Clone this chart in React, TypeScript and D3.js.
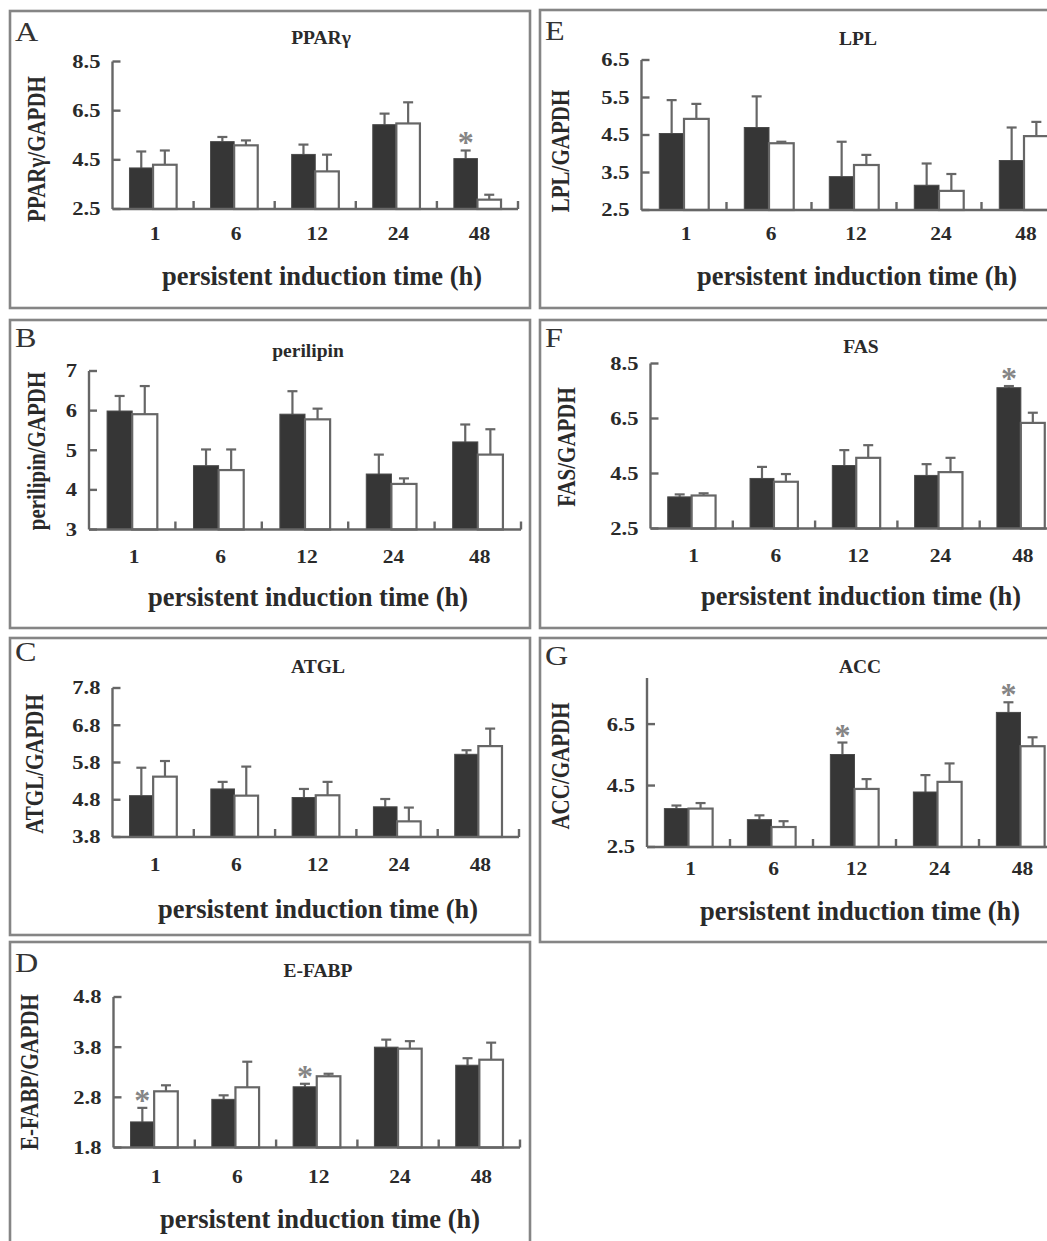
import React from 'react';
import * as d3 from 'd3';

// persistent induction time (h)
const times = ['1', '6', '12', '24', '48'];

// A  PPARγ
const ppargBlack = [4.17, 5.24, 4.72, 5.93, 4.55];
const ppargBlackSd = [0.67, 0.19, 0.4, 0.45, 0.33];
const ppargWhite = [4.3, 5.09, 4.03, 5.98, 2.88];
const ppargWhiteSd = [0.58, 0.2, 0.68, 0.86, 0.2];
const ppargTicks = [2.5, 4.5, 6.5, 8.5];
const ppargStars = ['48'];

// B  perilipin
const perilipinBlack = [5.99, 4.61, 5.91, 4.4, 5.21];
const perilipinBlackSd = [0.38, 0.41, 0.58, 0.49, 0.44];
const perilipinWhite = [5.91, 4.5, 5.78, 4.15, 4.89];
const perilipinWhiteSd = [0.71, 0.52, 0.27, 0.14, 0.64];
const perilipinTicks = [3, 4, 5, 6, 7];

// C  ATGL
const atglBlack = [4.91, 5.09, 4.86, 4.61, 6.02];
const atglBlackSd = [0.75, 0.19, 0.23, 0.21, 0.11];
const atglWhite = [5.42, 4.91, 4.92, 4.22, 6.24];
const atglWhiteSd = [0.42, 0.78, 0.36, 0.37, 0.47];
const atglTicks = [3.8, 4.8, 5.8, 6.8, 7.8];

// D  E-FABP
const efabpBlack = [2.31, 2.76, 3.01, 3.8, 3.44];
const efabpBlackSd = [0.28, 0.08, 0.06, 0.15, 0.14];
const efabpWhite = [2.92, 3.0, 3.22, 3.77, 3.55];
const efabpWhiteSd = [0.12, 0.51, 0.05, 0.15, 0.34];
const efabpTicks = [1.8, 2.8, 3.8, 4.8];
const efabpStars = ['1', '12'];

// E  LPL
const lplBlack = [4.54, 4.7, 3.39, 3.16, 3.82];
const lplBlackSd = [0.89, 0.83, 0.93, 0.58, 0.88];
const lplWhite = [4.93, 4.28, 3.7, 3.01, 4.47];
const lplWhiteSd = [0.4, 0.04, 0.27, 0.45, 0.38];
const lplTicks = [2.5, 3.5, 4.5, 5.5, 6.5];

// F  FAS
const fasBlack = [3.65, 4.32, 4.79, 4.43, 7.62];
const fasBlackSd = [0.09, 0.42, 0.56, 0.41, 0.06];
const fasWhite = [3.7, 4.2, 5.07, 4.55, 6.34];
const fasWhiteSd = [0.08, 0.28, 0.46, 0.52, 0.37];
const fasTicks = [2.5, 4.5, 6.5, 8.5];
const fasStars = ['48'];

// G  ACC
const accBlack = [3.75, 3.39, 5.51, 4.29, 6.88];
const accBlackSd = [0.1, 0.14, 0.39, 0.55, 0.33];
const accWhite = [3.75, 3.15, 4.39, 4.62, 5.78];
const accWhiteSd = [0.18, 0.19, 0.32, 0.6, 0.29];
const accTicks = [2.5, 4.5, 6.5];
const accStars = ['12', '48'];

const FONT = '"Liberation Serif", "Times New Roman", serif';
const AXIS = '#666';
const TEXT = '#2a2a2a';

// layout of each boxed panel (page pixels)
const panels = [
  {
    letter: 'A', title: 'PPARγ', yLabel: 'PPARγ/GAPDH',
    black: ppargBlack, blackSd: ppargBlackSd, white: ppargWhite, whiteSd: ppargWhiteSd,
    ticks: ppargTicks, domain: [2.5, 8.5], stars: ppargStars,
    box: [10, 11, 520, 297], x0: 112.5, x1: 518, yTop: 61.5, yBot: 209,
    letterPos: [15, 41], titlePos: [321, 44], yLabelPos: [45, 149],
    tickBase: 240, xTitle: [322, 285],
  },
  {
    letter: 'B', title: 'perilipin', yLabel: 'perilipin/GAPDH',
    black: perilipinBlack, blackSd: perilipinBlackSd, white: perilipinWhite, whiteSd: perilipinWhiteSd,
    ticks: perilipinTicks, domain: [3, 7], stars: [],
    box: [10, 320, 520, 308], x0: 89, x1: 521, yTop: 371, yBot: 529.5,
    letterPos: [15, 347], titlePos: [308, 357], yLabelPos: [45, 451],
    tickBase: 563, xTitle: [308, 606],
  },
  {
    letter: 'C', title: 'ATGL', yLabel: 'ATGL/GAPDH',
    black: atglBlack, blackSd: atglBlackSd, white: atglWhite, whiteSd: atglWhiteSd,
    ticks: atglTicks, domain: [3.8, 7.8], stars: [],
    box: [10, 638, 520, 297], x0: 112.5, x1: 519, yTop: 688, yBot: 837,
    letterPos: [15, 661], titlePos: [318, 673], yLabelPos: [43, 764],
    tickBase: 871, xTitle: [318, 918],
  },
  {
    letter: 'D', title: 'E-FABP', yLabel: 'E-FABP/GAPDH',
    black: efabpBlack, blackSd: efabpBlackSd, white: efabpWhite, whiteSd: efabpWhiteSd,
    ticks: efabpTicks, domain: [1.8, 4.8], stars: efabpStars,
    box: [10, 942, 520, 320], x0: 113.5, x1: 520, yTop: 997, yBot: 1147.5,
    letterPos: [15, 972], titlePos: [318, 977], yLabelPos: [38, 1072],
    tickBase: 1183, xTitle: [320, 1228],
  },
  {
    letter: 'E', title: 'LPL', yLabel: 'LPL/GAPDH',
    black: lplBlack, blackSd: lplBlackSd, white: lplWhite, whiteSd: lplWhiteSd,
    ticks: lplTicks, domain: [2.5, 6.5], stars: [],
    box: [540, 10, 530, 298], x0: 641.5, x1: 1066.5, yTop: 60, yBot: 210,
    letterPos: [545, 40], titlePos: [858, 45], yLabelPos: [569, 151],
    tickBase: 240, xTitle: [857, 285],
  },
  {
    letter: 'F', title: 'FAS', yLabel: 'FAS/GAPDH',
    black: fasBlack, blackSd: fasBlackSd, white: fasWhite, whiteSd: fasWhiteSd,
    ticks: fasTicks, domain: [2.5, 8.5], stars: fasStars,
    box: [540, 320, 530, 308], x0: 650.5, x1: 1062, yTop: 363.5, yBot: 528.5,
    letterPos: [545, 347], titlePos: [861, 353], yLabelPos: [575, 447],
    tickBase: 562, xTitle: [861, 605],
  },
  {
    letter: 'G', title: 'ACC', yLabel: 'ACC/GAPDH',
    black: accBlack, blackSd: accBlackSd, white: accWhite, whiteSd: accWhiteSd,
    ticks: accTicks, domain: [2.5, 8.0], stars: accStars,
    box: [540, 638, 530, 304], x0: 647, x1: 1062, yTop: 678, yBot: 847,
    letterPos: [545, 665], titlePos: [860, 673], yLabelPos: [569, 766],
    tickBase: 875, xTitle: [860, 920],
  },
];

type Cfg = typeof panels[number];

function Panel({ p }: { p: Cfg }) {
  const x = d3.scaleBand<string>().domain(times).range([p.x0, p.x1]);
  const inner = d3.scaleBand<string>().domain(['black', 'white'])
    .range([0, x.bandwidth()]).paddingInner(0).paddingOuter(0.72);
  const y = d3.scaleLinear().domain(p.domain).range([p.yBot, p.yTop]);
  const bw = inner.bandwidth();
  const [bx, by, bwid, bh] = p.box;

  const series = [
    { key: 'black', vals: p.black, sd: p.blackSd },
    { key: 'white', vals: p.white, sd: p.whiteSd },
  ];

  return (
    <g>
      <rect x={bx} y={by} width={bwid} height={bh} fill="white" stroke="#858585" strokeWidth={2.6} />
      <text transform={`translate(${p.letterPos[0]},${p.letterPos[1]}) scale(1.15,1)`} fontFamily={FONT}
        fontSize={28} fill="#333">{p.letter}</text>
      <text x={p.titlePos[0]} y={p.titlePos[1]} fontFamily={FONT} fontSize={19.5} fontWeight="bold"
        fill={TEXT} textAnchor="middle">{p.title}</text>
      <text transform={`translate(${p.yLabelPos[0]},${p.yLabelPos[1]}) rotate(-90) scale(1,1.18)`} fontFamily={FONT}
        fontSize={21} fontWeight="bold" fill={TEXT} textAnchor="middle">{p.yLabel}</text>

      {/* bars */}
      {series.map(s => times.map((t, i) => {
        const left = x(t)! + inner(s.key)!;
        const top = y(s.vals[i]);
        const errTop = y(s.vals[i] + s.sd[i]);
        const cx = left + bw / 2;
        return (
          <g key={s.key + t}>
            <line x1={cx} x2={cx} y1={top} y2={errTop} stroke={AXIS} strokeWidth={2.2} />
            <line x1={cx - 5} x2={cx + 5} y1={errTop} y2={errTop} stroke={AXIS} strokeWidth={2.2} />
            {s.key === 'black'
              ? <rect x={left} y={top} width={bw} height={p.yBot - top} fill="#363636" stroke="#4a4a4a" strokeWidth={1} />
              : <rect x={left} y={top} width={bw} height={p.yBot - top} fill="white" stroke={AXIS} strokeWidth={2.2} />}
            {s.key === 'black' && p.stars.includes(t) && (
              <text x={cx} y={errTop + 3} fontFamily={FONT} fontSize={32} fontWeight="bold" fill="#858585"
                textAnchor="middle">*</text>
            )}
          </g>
        );
      }))}

      {/* y axis */}
      <line x1={p.x0} x2={p.x0} y1={p.yBot} y2={y(p.domain[1])} stroke={AXIS} strokeWidth={2.4} />
      {p.ticks.map(v => (
        <g key={v}>
          <line x1={p.x0} x2={p.x0 + 8} y1={y(v)} y2={y(v)} stroke={AXIS} strokeWidth={2.4} />
          <text transform={`translate(${p.x0 - 12},${y(v)}) scale(1.22,1)`} dy="0.35em" textAnchor="end"
            fontFamily={FONT} fontSize={18.5} fontWeight="bold" fill={TEXT}>{v}</text>
        </g>
      ))}

      {/* x axis */}
      <line x1={p.x0} x2={p.x1} y1={p.yBot} y2={p.yBot} stroke={AXIS} strokeWidth={2.4} />
      {times.map(t => (
        <g key={t}>
          <line x1={x(t)! + x.step()} x2={x(t)! + x.step()} y1={p.yBot} y2={p.yBot - 8} stroke={AXIS} strokeWidth={2.4} />
          <text transform={`translate(${x(t)! + x.bandwidth() / 2 + 2},${p.tickBase}) scale(1.1,1)`}
            textAnchor="middle" fontFamily={FONT} fontSize={19.5} fontWeight="bold" fill={TEXT}>{t}</text>
        </g>
      ))}
      <text x={p.xTitle[0]} y={p.xTitle[1]} textAnchor="middle" fontFamily={FONT} fontSize={26.5}
        fontWeight="bold" fill={TEXT}>persistent induction time (h)</text>
    </g>
  );
}

export default function App() {
  return (
    <div>
      <svg width={1047} height={1241} style={{ position: 'absolute', left: 0, top: 0, background: 'white' }}>
        <rect width={1047} height={1241} fill="white" />
        {panels.map(p => <Panel key={p.letter} p={p} />)}
      </svg>
    </div>
  );
}
